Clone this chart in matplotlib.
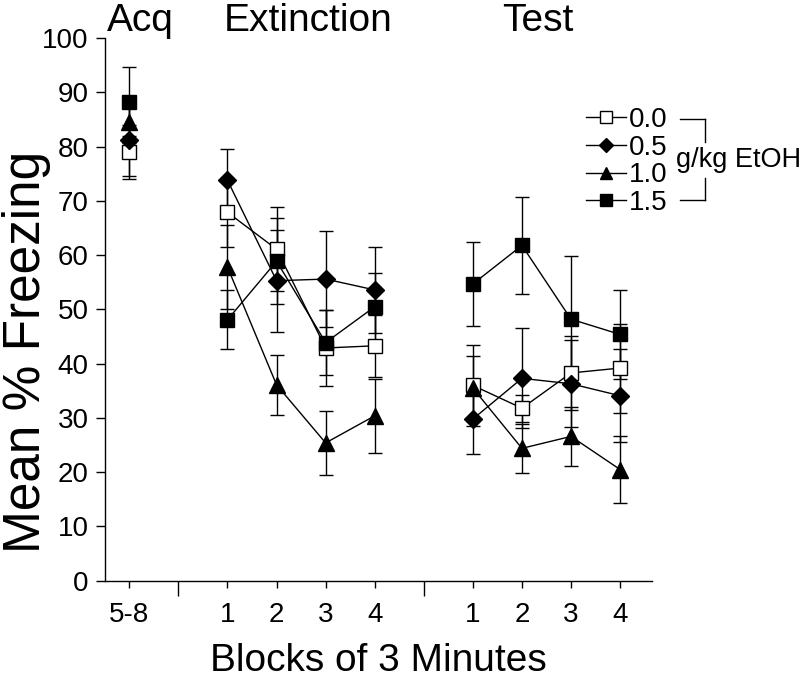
import matplotlib
matplotlib.use("Agg")
import matplotlib.pyplot as plt
from matplotlib.lines import Line2D

plt.rcParams['font.family'] = ['Liberation Sans', 'DejaVu Sans']

# x slots: acquisition block, extinction blocks 1-4, test blocks 1-4
acq_x = [0]
ext_x = [2, 3, 4, 5]
test_x = [7, 8, 9, 10]
sep_x = [1, 6]
tick_labels = ['5-8', '1', '2', '3', '4', '1', '2', '3', '4']

doses = ['0.0', '0.5', '1.0', '1.5']

acq_mean = [79.0, 81.2, 84.6, 88.3]
acq_err = [5.0, 6.6, 4.0, 6.4]

ext_00 = [67.9, 61.1, 42.9, 43.3]
ext_05 = [73.8, 55.3, 55.6, 53.6]
ext_10 = [57.8, 36.1, 25.4, 30.4]
ext_15 = [48.1, 58.9, 43.9, 50.5]
ext_err_00 = [6.3, 7.7, 7.0, 5.7]
ext_err_05 = [5.8, 9.4, 8.9, 7.9]
ext_err_10 = [7.7, 5.5, 5.9, 6.8]
ext_err_15 = [5.4, 7.9, 6.0, 6.2]

test_00 = [36.0, 31.8, 38.3, 39.2]
test_05 = [29.8, 37.3, 36.3, 34.1]
test_10 = [35.5, 24.4, 26.6, 20.5]
test_15 = [54.7, 61.8, 48.2, 45.4]
test_err_00 = [7.4, 2.5, 6.8, 8.2]
test_err_05 = [6.4, 9.2, 8.0, 8.6]
test_err_10 = [6.0, 4.5, 5.4, 6.2]
test_err_15 = [7.8, 8.9, 11.7, 8.2]

ext = [ext_00, ext_05, ext_10, ext_15]
ext_err = [ext_err_00, ext_err_05, ext_err_10, ext_err_15]
test = [test_00, test_05, test_10, test_15]
test_err = [test_err_00, test_err_05, test_err_10, test_err_15]

markers = ['s', 'D', '^', 's']
faces = ['white', 'black', 'black', 'black']
msizes = [10, 9, 11, 10]

fig = plt.figure(figsize=(8, 6.82), dpi=100)
ax = fig.add_axes([0.131, 0.1485, 0.684, 0.7955])

#error bars first so the markers sit on top
for i in range(4):
    ax.errorbar(acq_x, [acq_mean[i]], yerr=[acq_err[i]], fmt='none',
                ecolor='black', elinewidth=1, capsize=5, capthick=1, zorder=1)
    ax.errorbar(ext_x, ext[i], yerr=ext_err[i], fmt='none',
                ecolor='black', elinewidth=1, capsize=5, capthick=1, zorder=1)
    ax.errorbar(test_x, test[i], yerr=test_err[i], fmt='none',
                ecolor='black', elinewidth=1, capsize=5, capthick=1, zorder=1)

handles = []
for i in range(4):
    style = dict(color='black', lw=1, marker=markers[i], ms=msizes[i],
                 mfc=faces[i], mec='black', mew=1, zorder=3 + i)
    ax.plot(acq_x, [acq_mean[i]], **style)
    ax.plot(ext_x, ext[i], **style)
    ax.plot(test_x, test[i], **style)
    handles.append(Line2D([], [], color='black', lw=1, marker=markers[i],
                          ms=msizes[i] * 0.8, mfc=faces[i], mec='black', mew=1))

ax.set_xlim(-0.5, 10.65)
ax.set_ylim(0, 100)
ax.set_yticks(range(0, 101, 10))
ax.set_xticks(acq_x + ext_x + test_x)
ax.set_xticklabels(tick_labels)
ax.set_xticks(sep_x, minor=True)
ax.tick_params(axis='x', which='major', length=5, width=1, pad=10, labelsize=20)
ax.tick_params(axis='x', which='minor', length=11, width=1)
ax.tick_params(axis='y', length=6.5, width=1, pad=5, labelsize=20)
for s in ['top', 'right']:
    ax.spines[s].set_visible(False)
for s in ['left', 'bottom']:
    ax.spines[s].set_linewidth(1)

ax.set_xlabel('Blocks of 3 Minutes', fontsize=28, labelpad=11)
fig.text(27 / 800, 1 - 352 / 682, 'Mean % Freezing', fontsize=37, rotation=90,
         ha='center', va='center')

fig.text(140 / 800, 1 - 31 / 682, 'Acq', fontsize=28, ha='center', va='baseline')
fig.text(308 / 800, 1 - 31 / 682, 'Extinction', fontsize=28, ha='center', va='baseline')
fig.text(538 / 800, 1 - 31 / 682, 'Test', fontsize=28, ha='center', va='baseline')

leg = fig.legend(handles, doses, loc='upper left', bbox_to_anchor=(586 / 800, 1 - 107 / 682),
                 frameon=False, fontsize=20, handlelength=1.45, handletextpad=0.1,
                 labelspacing=0.06, borderpad=0, borderaxespad=0)

# bracket tying the legend entries to the unit label
bx0, bx1 = 680 / 800, 705 / 800
yt, yb = 1 - 119 / 682, 1 - 200 / 682
fig.add_artist(Line2D([bx0, bx1], [yt, yt], color='black', lw=1))
fig.add_artist(Line2D([bx1, bx1], [yt, 1 - 142 / 682], color='black', lw=1))
fig.add_artist(Line2D([bx1, bx1], [1 - 178 / 682, yb], color='black', lw=1))
fig.add_artist(Line2D([bx0, bx1], [yb, yb], color='black', lw=1))
fig.text(676 / 800, 1 - 160 / 682, 'g/kg EtOH', fontsize=19.5, ha='left', va='center')

fig.savefig('out.png', dpi=100)
